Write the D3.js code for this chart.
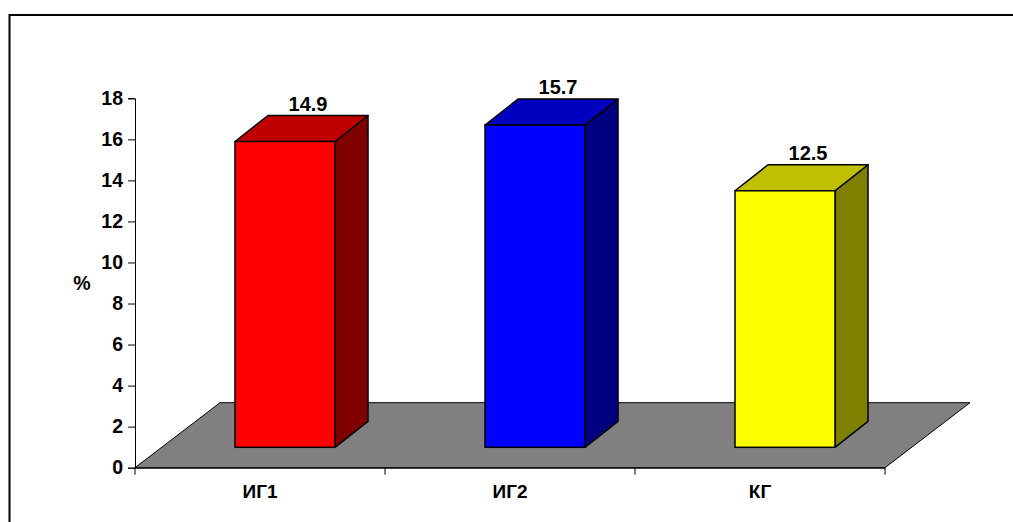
<!DOCTYPE html>
<html>
<head>
<meta charset="utf-8">
<script src="https://cdn.jsdelivr.net/npm/d3@7"></script>
<style>
  body { margin: 0; background: #fff; }
  text { font-family: Arial, "Liberation Sans", sans-serif; font-weight: bold; }
</style>
</head>
<body>
<div id="chart"></div>
<script>
const categories = ["ИГ1", "ИГ2", "КГ"];
const values = [14.9, 15.7, 12.5];
const frontColors = ["#ff0000", "#0000ff", "#ffff00"];
const topColors = ["#c00000", "#0000c0", "#c0c000"];
const sideColors = ["#800000", "#000080", "#808000"];
const yTicks = [0, 2, 4, 6, 8, 10, 12, 14, 16, 18];

const width = 1013;
const height = 522;

// floor depth and bar depth offsets (oblique projection)
const floorDepth = { dx: 85, dy: -65 };
const barFront = { dx: 25, dy: -20.4 };
const barDepth = { dx: 33, dy: -26 };

const svg = d3.select("#chart")
  .append("svg")
  .attr("width", width)
  .attr("height", height);

// outer frame
svg.append("rect")
  .attr("x", 9.5)
  .attr("y", 15)
  .attr("width", 1020)
  .attr("height", 520)
  .attr("fill", "none")
  .attr("stroke", "#000")
  .attr("stroke-width", 2);

const y = d3.scaleLinear().domain([0, 18]).range([467.7, 98.3]);
const x = d3.scaleBand().domain(categories).range([135, 885]);

const y0 = y(0);
const x0 = x.range()[0], x1 = x.range()[1];

// floor
svg.append("polygon")
  .attr("points", [
    [x0, y0], [x1, y0],
    [x1 + floorDepth.dx, y0 + floorDepth.dy],
    [x0 + floorDepth.dx, y0 + floorDepth.dy]
  ].map(p => p.join(",")).join(" "))
  .attr("fill", "#808080")
  .attr("stroke", "#000")
  .attr("stroke-width", 1);

// y axis
const yAxis = svg.append("g")
  .attr("transform", `translate(${x0},0)`)
  .call(d3.axisLeft(y).tickValues(yTicks).tickSize(7).tickPadding(5));
yAxis.selectAll("text").style("font-size", "19.5px").attr("fill", "#000");
yAxis.selectAll("line, path").attr("stroke", "#000");

// x axis
const xAxis = svg.append("g")
  .attr("transform", `translate(0,${y0})`)
  .call(d3.axisBottom(x).tickSize(0).tickPadding(17));
xAxis.selectAll("text").style("font-size", "19px").attr("fill", "#000");
xAxis.select(".domain").attr("stroke", "#000");

svg.append("g")
  .selectAll("line")
  .data(d3.range(categories.length + 1))
  .enter().append("line")
  .attr("x1", i => x0 + i * x.step())
  .attr("x2", i => x0 + i * x.step())
  .attr("y1", y0)
  .attr("y2", y0 + 7)
  .attr("stroke", "#000");

svg.append("text")
  .attr("x", 82)
  .attr("y", 283)
  .attr("text-anchor", "middle")
  .attr("dy", "0.35em")
  .style("font-size", "19.5px")
  .text("%");

// bars
const barW = x.bandwidth() * 0.4;
const bars = svg.selectAll(".bar")
  .data(values)
  .enter().append("g")
  .attr("class", "bar");

const pts = arr => arr.map(p => p.join(",")).join(" ");

bars.each(function (v, i) {
  const g = d3.select(this);
  const left = x(categories[i]) + x.bandwidth() / 2 - barW / 2 + barFront.dx;
  const right = left + barW;
  const bottom = y0 + barFront.dy;
  const top = bottom - (y0 - y(v));
  const ddx = barDepth.dx, ddy = barDepth.dy;

  g.append("polygon")
    .attr("points", pts([[right, bottom], [right + ddx, bottom + ddy], [right + ddx, top + ddy], [right, top]]))
    .attr("fill", sideColors[i])
    .attr("stroke", "#000")
    .attr("stroke-width", 1.5)
    .attr("stroke-linejoin", "round");

  g.append("polygon")
    .attr("points", pts([[left, top], [right, top], [right + ddx, top + ddy], [left + ddx, top + ddy]]))
    .attr("fill", topColors[i])
    .attr("stroke", "#000")
    .attr("stroke-width", 1.5)
    .attr("stroke-linejoin", "round");

  g.append("rect")
    .attr("x", left)
    .attr("y", top)
    .attr("width", barW)
    .attr("height", bottom - top)
    .attr("fill", frontColors[i])
    .attr("stroke", "#000")
    .attr("stroke-width", 1.5);

  g.append("text")
    .attr("x", (left + right) / 2 + 23)
    .attr("y", top + ddy - 5)
    .attr("text-anchor", "middle")
    .style("font-size", "20px")
    .text(v.toFixed(1));
});
</script>
</body>
</html>
